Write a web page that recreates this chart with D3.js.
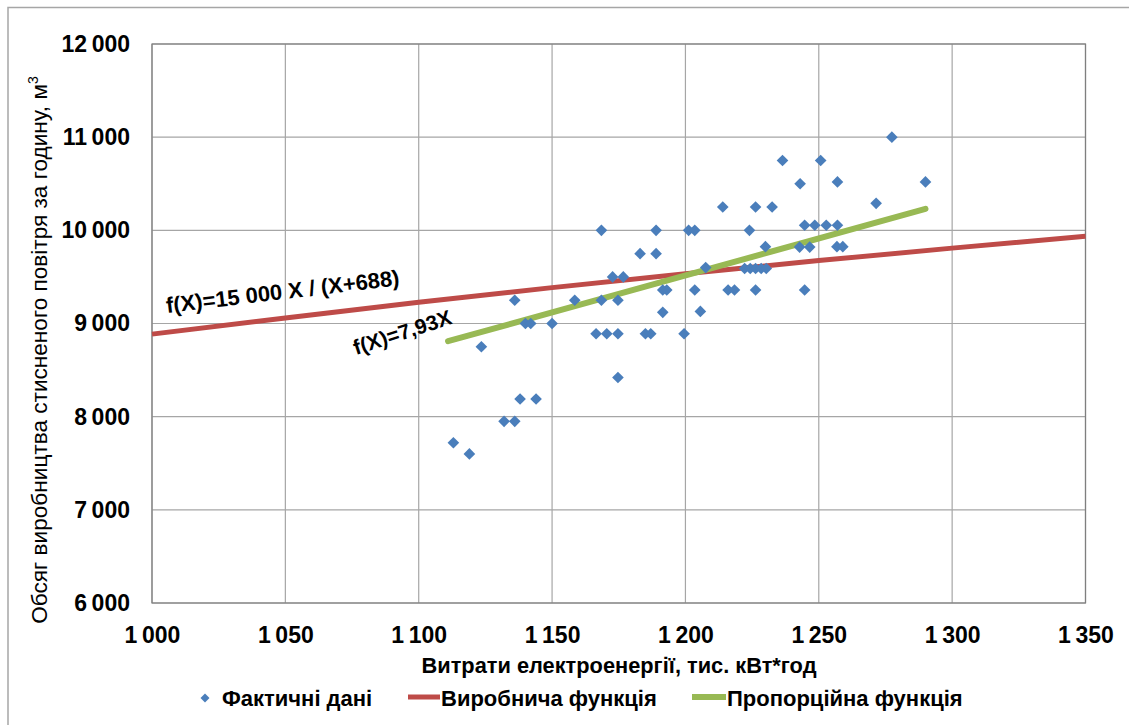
<!DOCTYPE html>
<html>
<head>
<meta charset="utf-8">
<script src="https://cdnjs.cloudflare.com/ajax/libs/d3/7.8.5/d3.min.js"></script>
<style>
  body { margin: 0; background: #fff; }
  svg { font-family: "Liberation Sans", Arial, sans-serif; }
</style>
</head>
<body>
<svg id="chart" width="1129" height="725"></svg>
<script>
// фактичні дані: витрати електроенергії (тис. кВт*год) та обсяг (м3/год)
var factX = [1113, 1119, 1123.5, 1132, 1136, 1136, 1138, 1144, 1140, 1142, 1150, 1158.5,
  1166.5, 1168.5, 1168.5, 1170.5, 1172.7, 1174.7, 1174.7, 1174.7, 1176.7, 1183, 1185, 1187,
  1189, 1189, 1191.5, 1191.5, 1193, 1199.5, 1201.2, 1203.5, 1203.5, 1205.6, 1207.6, 1214,
  1216, 1218.4, 1224, 1222.2, 1224.3, 1226.3, 1228.4, 1230.3, 1226.3, 1226.3, 1232.5, 1230,
  1236.4, 1250.7, 1243, 1257, 1244.7, 1248.5, 1252.8, 1257, 1242.8, 1246.6, 1256.8, 1259,
  1244.7, 1277.4, 1271.5, 1290];
var factY = [7720, 7600, 8750, 7950, 7950, 9250, 8190, 8190, 9000, 9000, 9000, 9250,
  8890, 9250, 10000, 8890, 9500, 9250, 8890, 8420, 9500, 9750, 8890, 8890,
  10000, 9750, 9360, 9120, 9360, 8890, 10000, 10000, 9360, 9130, 9600, 10250,
  9360, 9360, 10000, 9590, 9590, 9590, 9590, 9590, 10250, 9360, 10250, 9825,
  10750, 10750, 10500, 10520, 10055, 10055, 10055, 10055, 9820, 9820, 9825, 9825,
  9360, 11000, 10290, 10520];

// виробнича функція f(X)=15000X/(X+688)
var prodX = [1000, 1050, 1100, 1150, 1200, 1250, 1300, 1350];
var prodY = [8886, 9060, 9228, 9385, 9534, 9675, 9809, 9936];

// пропорційна функція f(X)=7,93X
var propX = [1111, 1290];
var propY = [8810, 10230];

var xTicks = [1000, 1050, 1100, 1150, 1200, 1250, 1300, 1350];
var yTicks = [6000, 7000, 8000, 9000, 10000, 11000, 12000];

var legendNames = ["Фактичні дані", "Виробнича функція", "Пропорційна функція"];

var blue = "#4a7ebb", red = "#be4b48", green = "#98b954";

var svg = d3.select("#chart");
var loc = d3.formatLocale({decimal: ",", thousands: "\u2009", grouping: [3], currency: ["", ""]});
var fmt = loc.format(",d");

var x = d3.scaleLinear().domain([1000, 1350]).range([152, 1085.5]);
var y = d3.scaleLinear().domain([6000, 12000]).range([603, 44]);

// outer frame
svg.append("path")
  .attr("d", "M8,740 L8,7.5 L1140,7.5")
  .attr("fill", "none").attr("stroke", "#a6a6a6").attr("stroke-width", 1.5);

// grid
svg.append("g").selectAll("line").data(yTicks).enter().append("line")
  .attr("x1", x(1000)).attr("x2", x(1350))
  .attr("y1", function(d) { return y(d); }).attr("y2", function(d) { return y(d); })
  .attr("stroke", "#a6a6a6").attr("stroke-width", 1.2);
svg.append("g").selectAll("line").data(xTicks).enter().append("line")
  .attr("y1", y(6000)).attr("y2", y(12000))
  .attr("x1", function(d) { return x(d); }).attr("x2", function(d) { return x(d); })
  .attr("stroke", "#a6a6a6").attr("stroke-width", 1.2);

svg.append("rect")
  .attr("x", x(1000)).attr("y", y(12000))
  .attr("width", x(1350) - x(1000)).attr("height", y(6000) - y(12000))
  .attr("fill", "none").attr("stroke", "#7f7f7f").attr("stroke-width", 1.2);

// axes
var xAxis = svg.append("g").attr("transform", "translate(0," + y(6000) + ")")
  .call(d3.axisBottom(x).tickValues(xTicks).tickFormat(fmt).tickSize(0).tickPadding(24));
var yAxis = svg.append("g").attr("transform", "translate(" + x(1000) + ",0)")
  .call(d3.axisLeft(y).tickValues(yTicks).tickFormat(fmt).tickSize(0).tickPadding(22));
[xAxis, yAxis].forEach(function(a) {
  a.select(".domain").remove();
  a.selectAll("text").attr("font-size", 23).attr("font-weight", "bold")
    .attr("fill", "#000").attr("font-family", "inherit");
});

// lines
var line = d3.line().x(function(d) { return x(d[0]); }).y(function(d) { return y(d[1]); });
svg.append("path")
  .datum(d3.zip(prodX, prodY))
  .attr("d", line).attr("fill", "none")
  .attr("stroke", red).attr("stroke-width", 5);

svg.append("path")
  .datum(d3.zip(propX, propY))
  .attr("d", line).attr("fill", "none")
  .attr("stroke", green).attr("stroke-width", 6).attr("stroke-linecap", "round");

// points
var diamond = d3.symbol().type(d3.symbolSquare).size(68);
svg.append("g").selectAll("path").data(d3.zip(factX, factY)).enter().append("path")
  .attr("d", diamond)
  .attr("transform", function(d) { return "translate(" + x(d[0]) + "," + y(d[1]) + ") rotate(45)"; })
  .attr("fill", blue);

// labels of functions
svg.append("text")
  .attr("transform", "translate(167,313) rotate(-6.8)")
  .attr("font-size", 22).attr("font-weight", "bold")
  .text("f(X)=15 000 X / (X+688)");
svg.append("text")
  .attr("transform", "translate(356,355) rotate(-18)")
  .attr("font-size", 21).attr("font-weight", "bold")
  .text("f(X)=7,93X");

// axis titles
svg.append("text")
  .attr("x", 619).attr("y", 673)
  .attr("text-anchor", "middle").attr("font-size", 21.8).attr("font-weight", "bold")
  .text("Витрати електроенергії, тис. кВт*год");

var yt = svg.append("text")
  .attr("transform", "translate(47,350) rotate(-90)")
  .attr("text-anchor", "middle").attr("font-size", 22.6);
yt.append("tspan").text("Обсяг виробництва стисненого повітря за годину, м");
yt.append("tspan").attr("font-size", 14).attr("dy", -9).text("3");

// legend
var lg = svg.append("g").attr("font-size", 22).attr("font-weight", "bold");
lg.append("path").attr("d", d3.symbol().type(d3.symbolSquare).size(40))
  .attr("transform", "translate(205,698) rotate(45)").attr("fill", blue);
lg.append("text").attr("x", 222).attr("y", 706).text(legendNames[0]);
lg.append("line").attr("x1", 408).attr("x2", 440).attr("y1", 697).attr("y2", 697)
  .attr("stroke", red).attr("stroke-width", 5);
lg.append("text").attr("x", 441).attr("y", 706).text(legendNames[1]);
lg.append("line").attr("x1", 692).attr("x2", 726).attr("y1", 697).attr("y2", 697)
  .attr("stroke", green).attr("stroke-width", 6);
lg.append("text").attr("x", 727).attr("y", 706).text(legendNames[2]);
</script>
</body>
</html>
